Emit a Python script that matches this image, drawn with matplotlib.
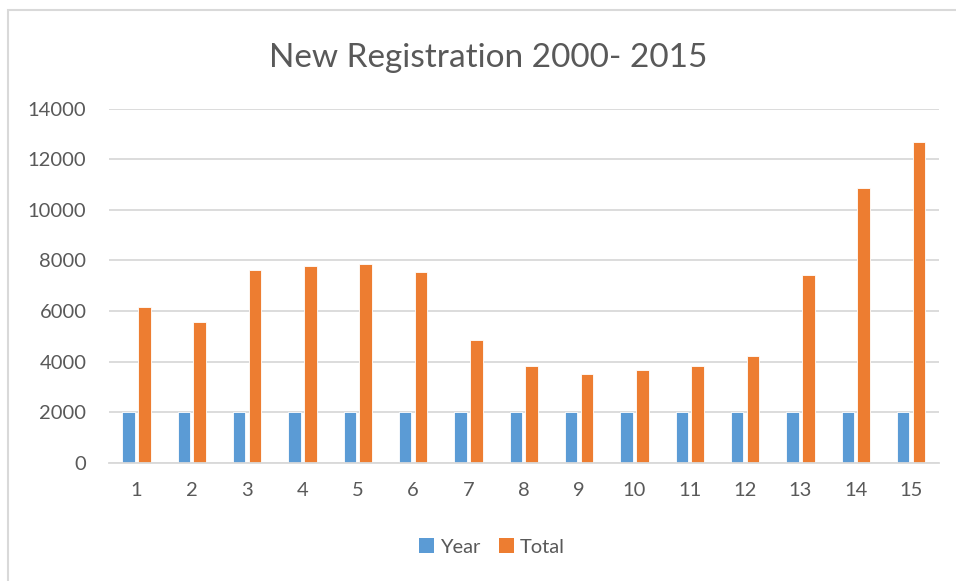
import matplotlib
matplotlib.use("Agg")
import matplotlib.pyplot as plt
import numpy as np
from matplotlib.patches import Rectangle, Patch

categories = [str(i) for i in range(1, 16)]
year = [2001, 2002, 2003, 2004, 2005, 2006, 2007, 2008, 2009, 2010, 2011, 2012, 2013, 2014, 2015]
total = [6170, 5575, 7620, 7790, 7845, 7550, 4865, 3825, 3495, 3680, 3810, 4205, 7420, 10875, 12695]
yticks = [0, 2000, 4000, 6000, 8000, 10000, 12000, 14000]

plt.rcParams['font.family'] = ['Lato', 'DejaVu Sans']
TXT = '#595959'
BLUE = '#5B9BD5'
ORANGE = '#ED7D31'
GRID = '#D9D9D9'

fig = plt.figure(figsize=(9.56, 5.81), dpi=100)
fig.patch.set_facecolor('white')
ax = fig.add_axes([0.1137, 0.2036, 0.8682, 0.6093])

x = np.arange(len(categories))
w = 0.225
off = 0.143
ax.bar(x - off, year, width=w, color=BLUE, edgecolor='white', linewidth=0.6, zorder=3)
ax.bar(x + off, total, width=w, color=ORANGE, edgecolor='white', linewidth=0.6, zorder=3)

ax.set_xlim(-0.5, len(categories) - 0.5)
ax.set_ylim(0, 14000)
ax.set_yticks(yticks)
ax.set_yticklabels([str(v) for v in yticks])
ax.set_xticks(x)
ax.set_xticklabels(categories)
ax.grid(axis='y', color=GRID, linewidth=1.3, zorder=0)
ax.set_axisbelow(True)
for s in ['top', 'right', 'left']:
    ax.spines[s].set_visible(False)
ax.spines['bottom'].set_color(GRID)
ax.spines['bottom'].set_linewidth(1.3)
ax.spines['bottom'].set_zorder(4)
ax.tick_params(axis='both', length=0, colors=TXT, labelsize=14.5)
ax.tick_params(axis='y', pad=16)
ax.tick_params(axis='x', pad=14)

fig.text(0.5105, 0.8852, 'New Registration 2000- 2015', ha='center', va='baseline',
         fontsize=24, color=TXT)

handles = [Patch(facecolor=BLUE, edgecolor='none'), Patch(facecolor=ORANGE, edgecolor='none')]
leg = fig.legend(handles, ['Year', 'Total'], loc='center', bbox_to_anchor=(0.5146, 0.0585),
                 ncol=2, frameon=False, fontsize=14.5, handlelength=0.75, handleheight=0.75,
                 handletextpad=0.3, columnspacing=0.9, labelcolor=TXT)

border = Rectangle((8 / 956, -0.05), 1.0, 1 - 10 / 581 + 0.05, transform=fig.transFigure,
                   fill=False, edgecolor=GRID, linewidth=1.5, zorder=0)
fig.patches.append(border)

fig.savefig('out.png', dpi=100, facecolor='white')
